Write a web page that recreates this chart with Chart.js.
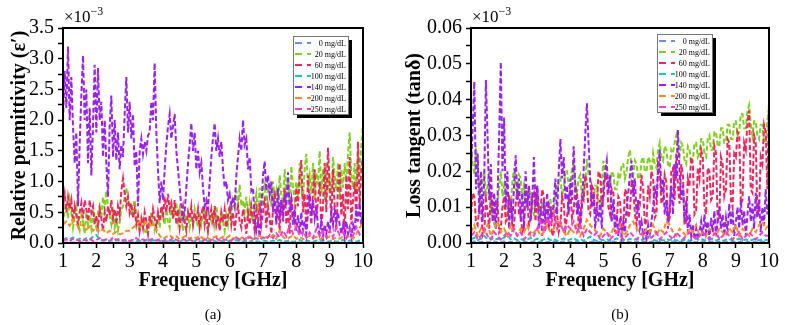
<!DOCTYPE html>
<html>
<head>
<meta charset="utf-8">
<script src="https://cdn.jsdelivr.net/npm/chart.js@4.4.1/dist/chart.umd.min.js"></script>
<style>
    html, body { margin: 0; padding: 0; background: #fff; }
    #wrap { position: relative; width: 785px; height: 325px; }
    #chartA { position: absolute; left: 0; top: 0; }
    #chartB { position: absolute; left: 392px; top: 0; }
</style>
</head>
<body>
<div id="wrap">
    <canvas id="chartA" width="392" height="325"></canvas>
    <canvas id="chartB" width="393" height="325"></canvas>
</div>
<script>
//
// Data (1-10 GHz sweep)
//

// fine grid (0.05 GHz) for the noisy series, coarse grid (0.1 GHz) for the flat ones
const freqFine = Array.from({ length: 181 }, (_, i) => +(1 + i * 0.05).toFixed(2))
const freqCoarse = Array.from({ length: 91 }, (_, i) => +(1 + i * 0.1).toFixed(1))

const concLabels = [ '0 mg/dL', '20 mg/dL', '60 mg/dL', '100 mg/dL', '140 mg/dL', '200 mg/dL', '250 mg/dL' ]
const concColors = [ '#6b8fe6', '#7fd11b', '#f2245c', '#1cc3c6', '#9a1ff2', '#ff8b1f', '#ff3cc8' ]

const xTicksMajor = [ 1, 2, 3, 4, 5, 6, 7, 8, 9, 10 ]

// (a) relative permittivity, x1e-3
const bA = [
    0.006, 0.008, 0.005, 0.007, 0.006, 0.008, 0.005, 0.007, 0.006, 0.008,
    0.005, 0.007, 0.006, 0.008, 0.005, 0.007, 0.006, 0.008, 0.005, 0.007,
    0.006, 0.008, 0.005, 0.007, 0.006, 0.008, 0.005, 0.007, 0.006, 0.008,
    0.005, 0.007, 0.006, 0.008, 0.005, 0.007, 0.006, 0.008, 0.005, 0.007,
    0.006, 0.008, 0.005, 0.007, 0.006, 0.008, 0.005, 0.007, 0.006, 0.008,
    0.005, 0.007, 0.006, 0.008, 0.005, 0.007, 0.006, 0.008, 0.005, 0.007,
    0.006, 0.008, 0.005, 0.007, 0.006, 0.008, 0.005, 0.007, 0.006, 0.008,
    0.005, 0.007, 0.006, 0.008, 0.005, 0.007, 0.006, 0.008, 0.005, 0.007,
    0.006, 0.008, 0.005, 0.007, 0.006, 0.008, 0.005, 0.007, 0.006, 0.008,
    0.006,
]
const gA = [
    0.3, 0.55, 0.65, 0.4, 0.7, 0.5, 0.25, 0.45, 0.6, 0.3, 0.2, 0.45, 0.35, 0.15, 0.5, 0.3, 0.45, 0.25, 0.55, 0.35,
    0.25, 0.5, 0.6, 0.4, 0.75, 0.55, 0.85, 0.6, 0.45, 0.3, 0.5, 0.25, 0.4, 0.2, 0.35, 0.55, 0.6, 0.75, 0.9, 0.7,
    0.65, 0.45, 0.55, 0.7, 0.5, 0.3, 0.2, 0.35, 0.4, 0.2, 0.15, 0.3, 0.35, 0.5, 0.4, 0.2, 0.3, 0.45, 0.25, 0.5,
    0.45, 0.3, 0.55, 0.35, 0.25, 0.6, 0.4, 0.5, 0.65, 0.35, 0.55, 0.4, 0.2, 0.45, 0.35, 0.5, 0.25, 0.4, 0.3, 0.55,
    0.4, 0.25, 0.5, 0.3, 0.45, 0.55, 0.3, 0.2, 0.45, 0.35, 0.5, 0.3, 0.6, 0.4, 0.25, 0.5, 0.35, 0.2, 0.45, 0.3,
    0.55, 0.4, 0.7, 0.6, 0.85, 0.55, 0.95, 0.6, 0.7, 0.5, 0.75, 0.4, 0.65, 0.45, 0.35, 0.6, 0.8, 0.5, 0.9, 0.6,
    0.8, 1.0, 0.55, 0.85, 0.95, 0.6, 1.0, 0.7, 0.85, 0.55, 1.1, 0.75, 0.6, 1.2, 0.8, 1.0, 0.65, 1.25, 0.9, 0.7,
    1.0, 0.75, 1.3, 0.9, 0.7, 1.2, 1.45, 0.9, 1.1, 0.8, 1.3, 0.7, 1.15, 0.95, 1.5, 0.8, 1.2, 0.7, 1.3, 0.9,
    1.05, 0.8, 1.4, 1.1, 0.85, 1.3, 0.7, 1.2, 0.9, 1.3, 1.0, 1.45, 1.8, 1.1, 0.9, 1.3, 0.8, 1.5, 1.1, 1.6,
    1.95,
]
const rA = [
    0.6, 0.8, 0.5, 0.75, 0.55, 0.7, 0.35, 0.6, 0.45, 0.3, 0.5, 0.65, 0.4, 0.7, 0.55, 0.35, 0.7, 0.5, 0.6, 0.3,
    0.45, 0.25, 0.55, 0.4, 0.2, 0.5, 0.35, 0.6, 0.45, 0.7, 0.4, 0.55, 0.3, 0.6, 0.45, 0.85, 1.05, 0.8, 0.6, 0.75,
    0.5, 0.65, 0.4, 0.55, 0.3, 0.45, 0.2, 0.4, 0.25, 0.5, 0.35, 0.15, 0.45, 0.3, 0.55, 0.4, 0.25, 0.5, 0.35, 0.6,
    0.45, 0.75, 0.5, 0.8, 0.55, 0.65, 0.4, 0.7, 0.3, 0.55, 0.25, 0.45, 0.6, 0.35, 0.2, 0.5, 0.4, 0.6, 0.3, 0.5,
    0.35, 0.55, 0.25, 0.45, 0.6, 0.3, 0.5, 0.2, 0.4, 0.55, 0.35, 0.6, 0.3, 0.45, 0.2, 0.5, 0.35, 0.55, 0.25, 0.45,
    0.6, 0.3, 0.5, 0.2, 0.45, 0.6, 0.35, 0.25, 0.55, 0.4, 0.15, 0.5, 0.3, 0.6, 0.4, 0.2, 0.55, 0.35, 0.65, 0.3,
    0.5, 0.75, 0.25, 0.6, 0.4, 0.15, 0.55, 0.85, 0.35, 0.6, 0.2, 0.7, 0.45, 0.9, 0.3, 0.55, 0.15, 0.75, 0.5, 0.35,
    0.9, 0.6, 1.1, 1.35, 0.5, 0.8, 0.2, 1.1, 0.6, 0.3, 0.85, 1.2, 0.4, 0.7, 1.0, 0.25, 0.6, 1.3, 0.5, 1.55,
    0.9, 0.4, 1.2, 0.6, 0.2, 0.9, 1.3, 0.45, 0.8, 0.15, 1.1, 0.55, 1.4, 0.3, 0.7, 1.0, 0.35, 1.65, 0.6, 1.2,
    1.4,
]
const cA = [
    0.05, 0.08, 0.06, 0.09, 0.05, 0.07, 0.04, 0.08, 0.06, 0.1,
    0.13, 0.06, 0.04, 0.05, 0.03, 0.06, 0.04, 0.05, 0.03, 0.04,
    0.02, 0.05, 0.03, 0.04, 0.02, 0.05, 0.03, 0.04, 0.06, 0.03,
    0.05, 0.02, 0.04, 0.03, 0.05, 0.02, 0.04, 0.03, 0.05, 0.02,
    0.04, 0.03, 0.02, 0.04, 0.03, 0.05, 0.02, 0.04, 0.03, 0.02,
    0.04, 0.03, 0.05, 0.02, 0.03, 0.04, 0.02, 0.05, 0.03, 0.02,
    0.04, 0.03, 0.02, 0.04, 0.03, 0.05, 0.02, 0.03, 0.04, 0.02,
    0.03, 0.05, 0.02, 0.04, 0.03, 0.02, 0.04, 0.03, 0.05, 0.02,
    0.03, 0.04, 0.02, 0.03, 0.05, 0.02, 0.04, 0.03, 0.02, 0.04,
    0.03,
]
const pA = [
    2.0, 2.8, 2.2, 3.2, 2.0, 2.7, 1.9, 1.3, 1.8, 0.6, 1.6, 2.4, 3.05, 2.0, 2.5, 1.3, 2.2, 1.1, 1.9, 2.9,
    1.8, 2.85, 2.0, 2.3, 1.4, 2.0, 1.3, 0.75, 1.9, 2.4, 1.4, 2.0, 1.35, 1.8, 1.2, 1.6, 1.4, 2.1, 2.7, 1.8,
    2.3, 1.7, 2.1, 1.25, 1.5, 0.6, 1.5, 1.7, 1.45, 1.65, 1.5, 1.75, 1.8, 2.3, 2.0, 2.93, 1.8, 1.2, 0.65, 1.0,
    0.7, 1.2, 1.6, 1.9, 2.1, 1.7, 1.9, 2.1, 1.5, 1.2, 0.9, 0.6, 0.4, 0.5, 0.9, 1.3, 1.6, 1.95, 1.5, 1.8,
    1.2, 1.5, 1.15, 1.3, 0.9, 0.6, 0.7, 0.55, 1.0, 1.4, 1.7, 1.95, 1.5, 1.7, 1.4, 1.65, 1.2, 0.9, 1.0, 0.7,
    0.8, 0.6, 0.75, 0.6, 1.1, 1.4, 1.7, 1.5, 2.0, 1.6, 1.7, 1.2, 1.4, 0.85, 0.9, 0.4, 0.2, 0.35, 0.1, 0.6,
    1.1, 1.33, 0.85, 1.1, 0.8, 1.0, 0.5, 0.7, 0.3, 0.9, 0.4, 0.7, 0.35, 0.8, 0.6, 1.15, 0.5, 0.7, 0.3, 0.55,
    0.2, 0.45, 0.15, 0.5, 0.2, 0.35, 0.15, 0.5, 0.8, 0.45, 0.7, 0.4, 0.6, 0.25, 0.15, 0.35, 0.1, 0.3, 0.15, 0.35,
    0.2, 0.5, 0.3, 0.6, 0.35, 0.5, 0.3, 0.15, 0.3, 0.1, 0.35, 0.15, 0.25, 0.1, 0.3, 0.2, 0.6, 0.35, 0.65, 0.3,
    0.55,
]
const oA = [
    0.3, 0.35, 0.28, 0.38, 0.3, 0.25, 0.3, 0.22, 0.27, 0.2,
    0.25, 0.18, 0.22, 0.16, 0.2, 0.15, 0.18, 0.14, 0.16, 0.2,
    0.2, 0.25, 0.3, 0.35, 0.3, 0.33, 0.28, 0.3, 0.22, 0.12,
    0.07, 0.1, 0.13, 0.08, 0.11, 0.06, 0.09, 0.12, 0.07, 0.1,
    0.08, 0.12, 0.07, 0.1, 0.06, 0.09, 0.11, 0.07, 0.1, 0.08,
    0.12, 0.07, 0.09, 0.06, 0.1, 0.08, 0.11, 0.06, 0.09, 0.12,
    0.07, 0.1, 0.08, 0.13, 0.07, 0.2, 0.1, 0.06, 0.09, 0.12,
    0.07, 0.1, 0.06, 0.09, 0.12, 0.08, 0.1, 0.06, 0.09, 0.07,
    0.11, 0.06, 0.09, 0.07, 0.1, 0.08, 0.12, 0.07, 0.15, 0.25,
    0.32,
]
const mA = [
    0.04, 0.06, 0.03, 0.07, 0.05, 0.03, 0.06, 0.04, 0.07, 0.03,
    0.05, 0.08, 0.04, 0.06, 0.03, 0.09, 0.05, 0.07, 0.04, 0.06,
    0.03, 0.06, 0.08, 0.04, 0.06, 0.03, 0.05, 0.07, 0.04, 0.06,
    0.03, 0.06, 0.04, 0.08, 0.05, 0.03, 0.06, 0.04, 0.06, 0.03,
    0.05, 0.07, 0.04, 0.06, 0.03, 0.06, 0.08, 0.04, 0.06, 0.05,
    0.03, 0.06, 0.09, 0.05, 0.08, 0.04, 0.1, 0.06, 0.08, 0.05,
    0.09, 0.06, 0.13, 0.08, 0.16, 0.09, 0.2, 0.11, 0.3, 0.15,
    0.26, 0.12, 0.2, 0.09, 0.17, 0.08, 0.23, 0.11, 0.19, 0.09,
    0.2, 0.1, 0.25, 0.13, 0.18, 0.08, 0.21, 0.12, 0.26, 0.14,
    0.2,
]

// (b) loss tangent
const bB = [
    0.0003, 0.0004, 0.0002, 0.0003, 0.0004, 0.0002, 0.0003, 0.0004, 0.0002, 0.0003,
    0.0004, 0.0002, 0.0003, 0.0004, 0.0002, 0.0003, 0.0004, 0.0002, 0.0003, 0.0004,
    0.0002, 0.0003, 0.0004, 0.0002, 0.0003, 0.0004, 0.0002, 0.0003, 0.0004, 0.0002,
    0.0003, 0.0004, 0.0002, 0.0003, 0.0004, 0.0002, 0.0003, 0.0004, 0.0002, 0.0003,
    0.0004, 0.0002, 0.0003, 0.0004, 0.0002, 0.0003, 0.0004, 0.0002, 0.0003, 0.0004,
    0.0002, 0.0003, 0.0004, 0.0002, 0.0003, 0.0004, 0.0002, 0.0003, 0.0004, 0.0002,
    0.0003, 0.0004, 0.0002, 0.0003, 0.0004, 0.0002, 0.0003, 0.0004, 0.0002, 0.0003,
    0.0004, 0.0002, 0.0003, 0.0004, 0.0002, 0.0003, 0.0004, 0.0002, 0.0003, 0.0004,
    0.0002, 0.0003, 0.0004, 0.0002, 0.0003, 0.0004, 0.0002, 0.0003, 0.0004, 0.0002,
    0.0003,
]
const gB = [
    0.027, 0.022, 0.019, 0.026, 0.024, 0.014, 0.01, 0.018, 0.02, 0.012, 0.016, 0.02, 0.008, 0.012, 0.005, 0.009, 0.01, 0.016, 0.02, 0.013,
    0.016, 0.01, 0.006, 0.012, 0.01, 0.017, 0.021, 0.015, 0.014, 0.019, 0.018, 0.013, 0.016, 0.011, 0.01, 0.015, 0.014, 0.009, 0.008, 0.013,
    0.012, 0.007, 0.006, 0.011, 0.01, 0.006, 0.007, 0.012, 0.012, 0.008, 0.009, 0.014, 0.014, 0.017, 0.018, 0.013, 0.015, 0.02, 0.02, 0.016,
    0.016, 0.021, 0.022, 0.016, 0.014, 0.018, 0.019, 0.013, 0.012, 0.017, 0.0235, 0.019, 0.018, 0.013, 0.012, 0.016, 0.016, 0.011, 0.01, 0.017,
    0.023, 0.018, 0.02, 0.016, 0.016, 0.02, 0.019, 0.015, 0.015, 0.019, 0.018, 0.022, 0.022, 0.018, 0.02, 0.024, 0.026, 0.021, 0.019, 0.023,
    0.022, 0.018, 0.018, 0.023, 0.024, 0.02, 0.02, 0.024, 0.023, 0.019, 0.025, 0.022, 0.021, 0.026, 0.028, 0.024, 0.023, 0.027, 0.026, 0.022,
    0.021, 0.026, 0.025, 0.028, 0.03, 0.025, 0.024, 0.028, 0.027, 0.023, 0.022, 0.027, 0.026, 0.022, 0.023, 0.028, 0.028, 0.024, 0.025, 0.029,
    0.029, 0.025, 0.024, 0.029, 0.03, 0.026, 0.026, 0.031, 0.031, 0.027, 0.027, 0.032, 0.032, 0.028, 0.028, 0.033, 0.033, 0.029, 0.029, 0.034,
    0.034, 0.03, 0.031, 0.036, 0.036, 0.032, 0.032, 0.037, 0.0385, 0.033, 0.03, 0.034, 0.034, 0.03, 0.029, 0.033, 0.033, 0.028, 0.028, 0.034,
    0.038,
]
const rB = [
    0.008, 0.014, 0.013, 0.006, 0.005, 0.01, 0.011, 0.002, 0.003, 0.012, 0.009, 0.004, 0.014, 0.009, 0.006, 0.012, 0.011, 0.003, 0.004, 0.01,
    0.013, 0.006, 0.007, 0.013, 0.012, 0.004, 0.005, 0.011, 0.015, 0.008, 0.009, 0.003, 0.004, 0.016, 0.012, 0.005, 0.007, 0.013, 0.014, 0.006,
    0.016, 0.01, 0.009, 0.015, 0.013, 0.004, 0.005, 0.011, 0.01, 0.002, 0.003, 0.009, 0.008, 0.003, 0.005, 0.013, 0.011, 0.004, 0.007, 0.012,
    0.015, 0.007, 0.009, 0.016, 0.014, 0.005, 0.006, 0.013, 0.012, 0.019, 0.017, 0.009, 0.008, 0.016, 0.015, 0.008, 0.01, 0.02, 0.019, 0.011,
    0.012, 0.019, 0.018, 0.01, 0.008, 0.015, 0.014, 0.005, 0.006, 0.013, 0.012, 0.003, 0.004, 0.015, 0.014, 0.007, 0.009, 0.017, 0.016, 0.008,
    0.005, 0.012, 0.011, 0.019, 0.015, 0.005, 0.006, 0.016, 0.013, 0.02, 0.018, 0.007, 0.008, 0.022, 0.02, 0.011, 0.012, 0.019, 0.017, 0.006,
    0.007, 0.02, 0.021, 0.012, 0.025, 0.016, 0.011, 0.022, 0.019, 0.005, 0.006, 0.018, 0.016, 0.024, 0.022, 0.008, 0.009, 0.021, 0.018, 0.026,
    0.024, 0.01, 0.008, 0.021, 0.02, 0.012, 0.013, 0.027, 0.025, 0.006, 0.007, 0.024, 0.022, 0.013, 0.015, 0.029, 0.028, 0.012, 0.01, 0.025,
    0.024, 0.031, 0.03, 0.011, 0.012, 0.028, 0.026, 0.034, 0.037, 0.015, 0.014, 0.03, 0.028, 0.008, 0.009, 0.024, 0.022, 0.033, 0.031, 0.015,
    0.0395,
]
const cB = [
    0.001, 0.0015, 0.0008, 0.0012, 0.002, 0.001, 0.0015, 0.0008, 0.0012, 0.001,
    0.0015, 0.0022, 0.001, 0.0013, 0.0008, 0.0012, 0.0006, 0.001, 0.0014, 0.0008,
    0.0012, 0.0006, 0.001, 0.0014, 0.0008, 0.0011, 0.0006, 0.0009, 0.0013, 0.0007,
    0.001, 0.0014, 0.0007, 0.0011, 0.0006, 0.0012, 0.0018, 0.0009, 0.0006, 0.001,
    0.0007, 0.0011, 0.0006, 0.0009, 0.0013, 0.0007, 0.001, 0.0006, 0.0012, 0.0008,
    0.0011, 0.0007, 0.001, 0.0015, 0.002, 0.0009, 0.0006, 0.001, 0.0007, 0.0011,
    0.0008, 0.0012, 0.0006, 0.0009, 0.0007, 0.0011, 0.0006, 0.0009, 0.0013, 0.0007,
    0.001, 0.0006, 0.0009, 0.0012, 0.0007, 0.001, 0.0006, 0.0009, 0.0011, 0.0007,
    0.0009, 0.0012, 0.0007, 0.001, 0.0006, 0.0009, 0.0012, 0.0007, 0.001, 0.0008,
    0.001,
]
const pB = [
    0.02, 0.032, 0.045, 0.015, 0.025, 0.008, 0.02, 0.006, 0.018, 0.0455, 0.03, 0.012, 0.022, 0.006, 0.014, 0.004, 0.012, 0.03, 0.0505, 0.02,
    0.035, 0.01, 0.02, 0.004, 0.012, 0.006, 0.016, 0.0245, 0.012, 0.018, 0.006, 0.014, 0.004, 0.02, 0.01, 0.016, 0.006, 0.012, 0.024, 0.01,
    0.016, 0.004, 0.01, 0.002, 0.012, 0.006, 0.014, 0.004, 0.01, 0.006, 0.012, 0.018, 0.008, 0.02, 0.029, 0.018, 0.024, 0.012, 0.016, 0.008,
    0.018, 0.012, 0.027, 0.016, 0.008, 0.012, 0.004, 0.01, 0.02, 0.03, 0.039, 0.028, 0.018, 0.01, 0.014, 0.004, 0.01, 0.006, 0.012, 0.004,
    0.016, 0.02, 0.023, 0.014, 0.019, 0.006, 0.012, 0.003, 0.008, 0.002, 0.007, 0.002, 0.006, 0.003, 0.01, 0.014, 0.019, 0.023, 0.013, 0.018,
    0.008, 0.012, 0.004, 0.006, 0.002, 0.004, 0.001, 0.005, 0.002, 0.006, 0.01, 0.016, 0.012, 0.02, 0.026, 0.014, 0.018, 0.008, 0.012, 0.004,
    0.01, 0.016, 0.008, 0.022, 0.018, 0.0315, 0.02, 0.012, 0.016, 0.006, 0.012, 0.003, 0.008, 0.002, 0.005, 0.001, 0.004, 0.001, 0.003, 0.006,
    0.002, 0.008, 0.003, 0.006, 0.001, 0.007, 0.003, 0.009, 0.002, 0.006, 0.01, 0.004, 0.008, 0.002, 0.007, 0.003, 0.011, 0.005, 0.009, 0.002,
    0.006, 0.01, 0.004, 0.012, 0.005, 0.009, 0.002, 0.008, 0.013, 0.006, 0.011, 0.004, 0.014, 0.007, 0.012, 0.003, 0.01, 0.005, 0.015, 0.008,
    0.012,
]
const oB = [
    0.003, 0.005, 0.002, 0.004, 0.003, 0.005, 0.002, 0.004, 0.006, 0.003,
    0.004, 0.002, 0.005, 0.003, 0.002, 0.004, 0.003, 0.005, 0.002, 0.003,
    0.004, 0.002, 0.003, 0.005, 0.003, 0.004, 0.006, 0.0055, 0.003, 0.002,
    0.004, 0.003, 0.005, 0.002, 0.004, 0.0065, 0.005, 0.004, 0.003, 0.002,
    0.004, 0.003, 0.002, 0.004, 0.003, 0.005, 0.002, 0.003, 0.005, 0.006,
    0.004, 0.003, 0.002, 0.004, 0.003, 0.005, 0.002, 0.004, 0.003, 0.006,
    0.005, 0.003, 0.002, 0.004, 0.003, 0.002, 0.004, 0.003, 0.005, 0.002,
    0.003, 0.002, 0.004, 0.003, 0.002, 0.004, 0.003, 0.002, 0.004, 0.003,
    0.005, 0.002, 0.004, 0.003, 0.002, 0.004, 0.003, 0.005, 0.006, 0.004,
    0.005,
]
const mB = [
    0.002, 0.003, 0.001, 0.002, 0.004, 0.002, 0.001, 0.003, 0.002, 0.001,
    0.002, 0.003, 0.002, 0.004, 0.002, 0.003, 0.001, 0.002, 0.003, 0.002,
    0.004, 0.006, 0.003, 0.007, 0.005, 0.008, 0.004, 0.006, 0.003, 0.005,
    0.004, 0.006, 0.003, 0.005, 0.002, 0.004, 0.003, 0.002, 0.003, 0.001,
    0.002, 0.003, 0.001, 0.002, 0.003, 0.002, 0.001, 0.002, 0.003, 0.002,
    0.001, 0.002, 0.003, 0.002, 0.001, 0.002, 0.003, 0.001, 0.002, 0.003,
    0.002, 0.001, 0.003, 0.002, 0.001, 0.002, 0.003, 0.002, 0.001, 0.002,
    0.003, 0.002, 0.001, 0.002, 0.003, 0.001, 0.002, 0.003, 0.002, 0.001,
    0.002, 0.003, 0.001, 0.002, 0.003, 0.002, 0.001, 0.002, 0.003, 0.002,
    0.002,
]

const seriesA = [ bA, gA, rA, cA, pA, oA, mA ]
const seriesB = [ bB, gB, rB, cB, pB, oB, mB ]

//
// Plugins
//

const SERIF = '"Liberation Serif", "DejaVu Serif", serif'

const framePlugin = {
    id: 'frame',
    afterDraw (chart, args, opts) {
        const { ctx, chartArea: a } = chart
        ctx.save()
        ctx.strokeStyle = '#000'
        ctx.lineWidth = 2
        ctx.strokeRect(a.left, a.top, a.right - a.left, a.bottom - a.top)

        // x10^-3 multiplier
        ctx.fillStyle = '#000'
        ctx.textBaseline = 'alphabetic'
        ctx.textAlign = 'left'
        ctx.font = '17px ' + SERIF
        const base = '\u00d710'
        ctx.fillText(base, a.left + 1, a.top - 6)
        const w = ctx.measureText(base).width
        ctx.font = '12px ' + SERIF
        ctx.fillText('\u22123', a.left + 1 + w, a.top - 13)

        // panel tag
        ctx.font = '15px ' + SERIF
        ctx.textAlign = 'center'
        ctx.fillText(opts.tag, (a.left + a.right) / 2, 319)
        ctx.restore()
    },
}

const boxLegendPlugin = {
    id: 'boxLegend',
    afterDraw (chart, args, opts) {
        const { ctx, chartArea: a } = chart
        const w = 55
        const rowH = 11
        const h = rowH * concLabels.length + 1
        const x0 = a.right - opts.right - w
        const y0 = a.top + opts.top
        ctx.save()
        ctx.fillStyle = '#000'
        ctx.fillRect(x0 + 4, y0 + 4, w, h)
        ctx.fillStyle = '#fff'
        ctx.fillRect(x0, y0, w, h)
        ctx.strokeStyle = '#777'
        ctx.lineWidth = 1
        ctx.strokeRect(x0 + 0.5, y0 + 0.5, w, h)
        ctx.font = '8px ' + SERIF
        ctx.textAlign = 'right'
        ctx.textBaseline = 'middle'
        concLabels.forEach((label, i) => {
            const y = y0 + 7 + i * rowH
            ctx.strokeStyle = concColors[i]
            ctx.lineWidth = 1.8
            ctx.beginPath()
            ctx.moveTo(x0 + 2, y)
            ctx.lineTo(x0 + 9, y)
            ctx.moveTo(x0 + 14, y)
            ctx.lineTo(x0 + 18, y)
            ctx.stroke()
            ctx.fillStyle = '#000'
            ctx.fillText(label, x0 + w - 2, y + 0.5)
        })
        ctx.restore()
    },
}

//
// Chart construction
//

function makeChart (canvasId, series, opts) {
    const datasets = series.map((values, i) => {
        const xs = values.length === freqFine.length ? freqFine : freqCoarse
        return {
            label: concLabels[i],
            data: values.map((v, k) => ({ x: xs[k], y: v })),
            borderColor: concColors[i],
            borderWidth: 2,
            borderDash: [ 5, 2.5 ],
            pointRadius: 0,
            tension: 0,
            // later concentrations are drawn over earlier ones
            order: -i,
        }
    })

    const tickFont = { family: SERIF, size: 20 }
    const titleFont = { family: SERIF, size: 20, weight: 'bold' }

    return new Chart(document.getElementById(canvasId), {
        type: 'line',
        data: { datasets },
        plugins: [ framePlugin, boxLegendPlugin ],
        options: {
            responsive: false,
            animation: false,
            events: [],
            layout: { padding: { left: 0, right: opts.padRight, top: 28, bottom: 32 } },
            plugins: {
                legend: { display: false },
                tooltip: { enabled: false },
                frame: { tag: opts.tag },
                boxLegend: opts.legend,
            },
            scales: {
                x: {
                    type: 'linear',
                    min: 1,
                    max: 10,
                    afterFit: (s) => { s.height = 50 },
                    afterBuildTicks: (s) => {
                        const t = []
                        for (let k = 2; k <= 20; k++) t.push({ value: k / 2 })
                        s.ticks = t
                    },
                    ticks: {
                        autoSkip: false,
                        maxRotation: 0,
                        padding: 2,
                        color: '#000',
                        font: tickFont,
                        callback: (v) => (xTicksMajor.includes(v) ? String(v) : ''),
                    },
                    grid: {
                        drawOnChartArea: false,
                        drawTicks: true,
                        tickLength: 5,
                        tickColor: '#000',
                        tickWidth: 1.5,
                    },
                    border: { display: true, color: '#000', width: 2 },
                    title: {
                        display: true,
                        text: 'Frequency [GHz]',
                        color: '#000',
                        font: titleFont,
                        padding: { top: 0, bottom: 0 },
                    },
                },
                y: {
                    type: 'linear',
                    min: 0,
                    max: opts.yMax,
                    afterFit: (s) => { s.width = opts.yWidth },
                    afterBuildTicks: (s) => {
                        s.ticks = opts.yTicks.map((v) => ({ value: v }))
                    },
                    ticks: {
                        autoSkip: false,
                        padding: 4,
                        color: '#000',
                        font: tickFont,
                        callback: opts.yLabel,
                    },
                    grid: {
                        drawOnChartArea: false,
                        drawTicks: true,
                        tickLength: 5,
                        tickColor: '#000',
                        tickWidth: 1.5,
                    },
                    border: { display: true, color: '#000', width: 2 },
                    title: {
                        display: true,
                        text: opts.yTitle,
                        color: '#000',
                        font: titleFont,
                        padding: { top: opts.yTitlePad, bottom: 0 },
                    },
                },
            },
        },
    })
}

const yTicksA = []
for (let k = 0; k <= 14; k++) yTicksA.push(k * 0.25)
const yTicksB = []
for (let k = 0; k <= 12; k++) yTicksB.push(k * 0.005)

makeChart('chartA', seriesA, {
    tag: '(a)',
    padRight: 29,
    yWidth: 63,
    yTitlePad: 8,
    yMax: 3.5,
    yTicks: yTicksA,
    yTitle: 'Relative permittivity (\u03b5\u2032)',
    yLabel: (v) => (Math.round(v * 100) % 50 === 0 ? v.toFixed(1) : ''),
    legend: { right: 15, top: 8 },
})

makeChart('chartB', seriesB, {
    tag: '(b)',
    padRight: 16,
    yWidth: 79,
    yTitlePad: 11,
    yMax: 0.06,
    yTicks: yTicksB,
    yTitle: 'Loss tangent (tan\u03b4)',
    yLabel: (v) => (Math.round(v * 1000) % 10 === 0 ? v.toFixed(2) : ''),
    legend: { right: 57, top: 6 },
})
</script>
</body>
</html>
